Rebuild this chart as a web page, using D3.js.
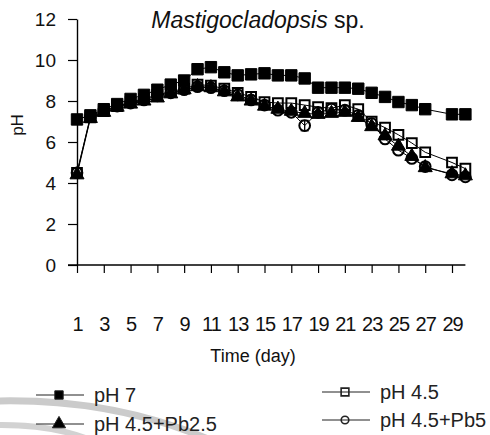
<!DOCTYPE html>
<html>
<head>
<meta charset="utf-8">
<script src="https://cdn.jsdelivr.net/npm/d3@7"></script>
<style>
  body { margin: 0; background: #fff; }
  svg text { font-family: Arial, "Liberation Sans", sans-serif; fill: #111; }
</style>
</head>
<body>
<div id="chart"></div>
<script>
// days sampled (day 28 missing in the source)
const days = [1, 2, 3, 4, 5, 6, 7, 8, 9, 10, 11, 12, 13, 14, 15, 16, 17, 18, 19, 20, 21, 22, 23, 24, 25, 26, 27, 29, 30];

// pH readings for each treatment
const ph7   = [7.1, 7.3, 7.6, 7.85, 8.1, 8.3, 8.55, 8.8, 9.0, 9.55, 9.65, 9.4, 9.25, 9.3, 9.35, 9.25, 9.25, 9.1, 8.65, 8.65, 8.65, 8.6, 8.4, 8.2, 7.95, 7.8, 7.6, 7.35, 7.35];
const ph45  = [4.5, 7.2, 7.5, 7.75, 7.95, 8.1, 8.3, 8.45, 8.6, 8.8, 8.75, 8.6, 8.4, 8.2, 7.95, 7.9, 7.9, 7.8, 7.7, 7.65, 7.8, 7.6, 7.0, 6.7, 6.35, 5.95, 5.5, 5.0, 4.7];
const pb25  = [4.4, 7.15, 7.45, 7.7, 7.85, 8.0, 8.15, 8.35, 8.55, 8.7, 8.65, 8.45, 8.2, 8.0, 7.75, 7.6, 7.5, 7.4, 7.35, 7.4, 7.45, 7.2, 6.75, 6.3, 5.8, 5.3, 4.75, 4.45, 4.35];
const pb5   = [4.5, 7.25, 7.55, 7.75, 7.9, 8.05, 8.25, 8.4, 8.55, 8.7, 8.65, 8.5, 8.3, 8.05, 7.8, 7.55, 7.45, 6.8, 7.45, 7.6, 7.55, 7.3, 6.9, 6.15, 5.6, 5.2, 4.8, 4.4, 4.3];
const pb5Err = [0, 0, 0, 0, 0, 0, 0, 0, 0, 0, 0, 0, 0, 0, 0, 0, 0, 0.25, 0, 0, 0, 0, 0, 0, 0, 0, 0, 0, 0];

const xTicks = [1, 3, 5, 7, 9, 11, 13, 15, 17, 19, 21, 23, 25, 27, 29];
const yTicks = [0, 2, 4, 6, 8, 10, 12];
const seriesNames = ["pH 7", "pH 4.5", "pH 4.5+Pb2.5", "pH 4.5+Pb5"];

let w = 490,
    h = 435;

let svg = d3.select("#chart")
            .append("svg")
            .attr("width", w)
            .attr("height", h);

// scan artefact: grey page-curl bands at the bottom left
svg.append("path")
   .attr("d", "M-5,401 Q115,398 215,442")
   .attr("fill", "none")
   .attr("stroke", "#cbcbcb")
   .attr("stroke-width", 7);
svg.append("path")
   .attr("d", "M-5,425 Q55,424 95,442")
   .attr("fill", "none")
   .attr("stroke", "#d2d2d2")
   .attr("stroke-width", 6);

let x = d3.scaleLinear()
          .domain([1, 29])
          .range([77, 452]);

let y = d3.scaleLinear()
          .domain([0, 12])
          .range([265, 19]);

// y axis
let yAxis = svg.append("g")
               .attr("transform", `translate(${x(1)},0)`)
               .call(d3.axisLeft(y).tickValues(yTicks).tickSize(9).tickPadding(12).tickSizeOuter(0));
yAxis.select(".domain").attr("stroke", "#000").attr("stroke-width", 1.4);
yAxis.selectAll(".tick line").attr("stroke-width", 1.2);
yAxis.selectAll("text").style("font-size", "19px");

// x axis, labels sit far below the line as in the original
let xAxis = svg.append("g")
               .attr("transform", `translate(0,${y(0)})`)
               .call(d3.axisBottom(x).tickValues(xTicks).tickSize(8).tickPadding(44).tickSizeOuter(0));
xAxis.select(".domain").attr("d", `M${x(1) - 9},0H${x(30)}`).attr("stroke-width", 1.4);
xAxis.selectAll(".tick line").attr("stroke-width", 1.2);
xAxis.selectAll("text").style("font-size", "20px").style("letter-spacing", "-1px");

svg.append("text")
   .attr("x", 253)
   .attr("y", 362)
   .attr("text-anchor", "middle")
   .style("font-size", "18px")
   .text("Time (day)");

svg.append("text")
   .attr("transform", "translate(23,125) rotate(-90)")
   .attr("text-anchor", "middle")
   .style("font-size", "17px")
   .text("pH");

// title
let title = svg.append("text")
               .attr("x", 258)
               .attr("y", 28)
               .attr("text-anchor", "middle")
               .style("font-size", "23px");
title.append("tspan").style("font-style", "italic").text("Mastigocladopsis");
title.append("tspan").text(" sp.");

let line = d3.line()
             .x((d, i) => x(days[i]))
             .y(d => y(d));

let series = [
  { name: seriesNames[1], values: ph45, shape: d3.symbolSquare, size: 95, fill: "none" },
  { name: seriesNames[3], values: pb5, shape: d3.symbolCircle, size: 90, fill: "none" },
  { name: seriesNames[2], values: pb25, shape: d3.symbolTriangle, size: 85, fill: "#000" },
  { name: seriesNames[0], values: ph7, shape: d3.symbolSquare, size: 130, fill: "#000" }
];

series.forEach(s => {
  svg.append("path")
     .datum(s.values)
     .attr("d", line)
     .attr("fill", "none")
     .attr("stroke", "#000")
     .attr("stroke-width", 1);

  svg.selectAll(null)
     .data(s.values)
     .enter()
     .append("path")
     .attr("transform", (d, i) => `translate(${x(days[i])},${y(d)})`)
     .attr("d", d3.symbol().type(s.shape).size(s.size))
     .attr("fill", s.fill)
     .attr("stroke", "#000")
     .attr("stroke-width", s.fill == "none" ? 2 : 1);
});

// error bar on the pH 4.5+Pb5 dip
let errs = pb5.map((v, i) => ({ day: days[i], v: v, e: pb5Err[i] })).filter(d => d.e > 0);
errs.forEach(d => {
  let g = svg.append("g").attr("stroke", "#000").attr("stroke-width", 1.3);
  g.append("line").attr("x1", x(d.day)).attr("x2", x(d.day)).attr("y1", y(d.v - d.e)).attr("y2", y(d.v + d.e));
  g.append("line").attr("x1", x(d.day) - 4).attr("x2", x(d.day) + 4).attr("y1", y(d.v - d.e)).attr("y2", y(d.v - d.e));
  g.append("line").attr("x1", x(d.day) - 4).attr("x2", x(d.day) + 4).attr("y1", y(d.v + d.e)).attr("y2", y(d.v + d.e));
});

// legend
let legendItems = [
  { name: seriesNames[0], shape: d3.symbolSquare, size: 70, fill: "#000", lx: 36, ly: 395 },
  { name: seriesNames[2], shape: d3.symbolTriangle, size: 75, fill: "#000", lx: 36, ly: 424 },
  { name: seriesNames[1], shape: d3.symbolSquare, size: 60, fill: "none", lx: 322, ly: 392 },
  { name: seriesNames[3], shape: d3.symbolCircle, size: 45, fill: "none", lx: 322, ly: 420 }
];

let legend = svg.selectAll(".legend")
                .data(legendItems)
                .enter()
                .append("g")
                .attr("class", "legend")
                .attr("transform", d => `translate(${d.lx},${d.ly})`);

legend.append("line")
      .attr("x1", 0)
      .attr("x2", 48)
      .attr("stroke", "#222")
      .attr("stroke-width", 1.2);

legend.append("path")
      .attr("transform", "translate(23,0)")
      .attr("d", d => d3.symbol().type(d.shape).size(d.size)())
      .attr("fill", d => d.fill)
      .attr("stroke", "#222")
      .attr("stroke-width", d => d.fill == "none" ? 1.6 : 1);

legend.append("text")
      .attr("x", 58)
      .attr("y", 7)
      .style("font-size", "20px")
      .style("fill", "#222")
      .text(d => d.name);
</script>
</body>
</html>
